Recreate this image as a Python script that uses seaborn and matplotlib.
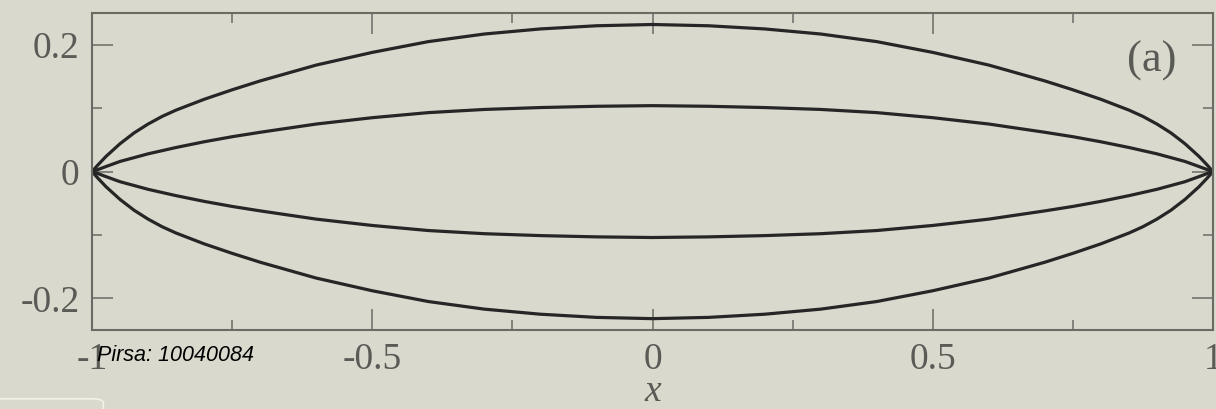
import numpy as np
import pandas as pd
import seaborn as sns
import matplotlib.pyplot as plt
from matplotlib.ticker import MultipleLocator, FixedLocator
from matplotlib.patches import FancyBboxPatch

#===========================================================================#
#### Data (upper curves; lower ones are the mirror)
#===========================================================================#
x_vals = [-1.0, -0.99, -0.975, -0.95, -0.925, -0.9, -0.875, -0.85, -0.8, -0.75, -0.7,
          -0.6, -0.5, -0.4, -0.3, -0.2, -0.1, 0.0,
          0.1, 0.2, 0.3, 0.4, 0.5, 0.6,
          0.7, 0.75, 0.8, 0.85, 0.875, 0.9, 0.925, 0.95, 0.975, 0.99, 1.0]
outer_upper = [0.0, 0.010, 0.024, 0.044, 0.061, 0.075, 0.087, 0.097, 0.114, 0.129, 0.143,
               0.168, 0.188, 0.205, 0.217, 0.225, 0.230, 0.232,
               0.230, 0.225, 0.217, 0.205, 0.188, 0.168,
               0.143, 0.129, 0.114, 0.097, 0.087, 0.075, 0.061, 0.044, 0.024, 0.010, 0.0]
inner_upper = [0.0, 0.003, 0.008, 0.016, 0.022, 0.028, 0.033, 0.038, 0.047, 0.055, 0.062,
               0.075, 0.085, 0.093, 0.098, 0.101, 0.103, 0.104,
               0.103, 0.101, 0.098, 0.093, 0.085, 0.075,
               0.062, 0.055, 0.047, 0.038, 0.033, 0.028, 0.022, 0.016, 0.008, 0.003, 0.0]
inner_lower = [-v for v in inner_upper]
outer_lower = [-v for v in outer_upper]

x_ticks = [-1, -0.5, 0, 0.5, 1]
x_ticklabels = ["-1", "-0.5", "0", "0.5", "1"]
y_ticks = [-0.2, 0, 0.2]
y_ticklabels = ["-0.2", "0", "0.2"]

curves = {"outer_upper": outer_upper, "inner_upper": inner_upper,
          "inner_lower": inner_lower, "outer_lower": outer_lower}
df = pd.concat([pd.DataFrame({"x": x_vals, "y": v, "curve": k}) for k, v in curves.items()],
               ignore_index=True)

#===========================================================================#
#### Plot
#===========================================================================#
bg = "#d9d9cd"
grey = "#6b6b66"
txt = "#5a5a56"
sns.set_theme(style="ticks")
plt.rcParams["font.family"] = ["Liberation Serif", "DejaVu Serif"]
plt.rcParams["axes.unicode_minus"] = False

fig = plt.figure(figsize=(12.16, 4.09), dpi=100, facecolor=bg)
ax = fig.add_axes([0.0757, 0.193, 0.9218, 0.775])
ax.set_facecolor(bg)

sns.lineplot(data=df, x="x", y="y", units="curve", estimator=None, sort=False,
             color="#262626", linewidth=2.3, ax=ax)

ax.set_xlim(-1, 1)
ax.set_ylim(-0.25, 0.25)
ax.set_xticks(x_ticks)
ax.set_xticklabels(x_ticklabels)
ax.set_yticks(y_ticks)
ax.set_yticklabels(y_ticklabels)
ax.xaxis.set_minor_locator(FixedLocator([-0.75, -0.25, 0.25, 0.75]))
ax.yaxis.set_minor_locator(MultipleLocator(0.1))

ax.tick_params(which="both", direction="in", top=True, right=True, color=grey,
               labelcolor=txt, labelsize=27, width=1.1)
ax.tick_params(which="major", length=15, pad=9)
ax.tick_params(which="minor", length=7)
for s in ax.spines.values():
    s.set_color(grey)
    s.set_linewidth(1.5)

ax.set_xlabel("x", fontsize=27, fontstyle="italic", color=txt, labelpad=-2)
ax.set_ylabel("")

ax.text(0.945, 0.85, "(a)", transform=ax.transAxes, fontsize=32, color=txt,
        ha="center", va="center")

fig.text(0.08, 0.13, "Pirsa: 10040084", fontsize=15.5, fontstyle="italic",
         family=["Liberation Sans", "DejaVu Sans"], color="black", ha="left", va="center")

# faint rounded box peeking in at the lower-left corner
fig.patches.append(FancyBboxPatch((-0.02, -0.05), 0.105, 0.075, boxstyle="round,pad=0,rounding_size=0.01",
                                  transform=fig.transFigure, fill=False, edgecolor="#f2f2ea",
                                  linewidth=1.2, figure=fig))

fig.savefig("out.png", dpi=100, facecolor=bg)
